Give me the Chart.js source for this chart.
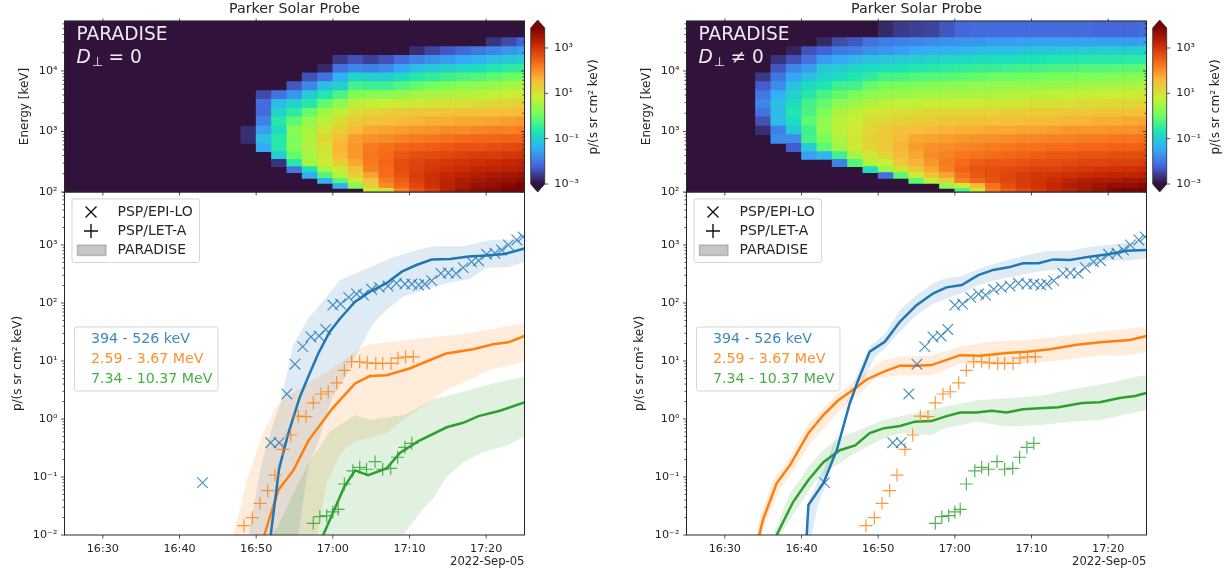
<!DOCTYPE html>
<html>
<head>
<meta charset="utf-8">
<title>Parker Solar Probe</title>
<script src="https://cdn.jsdelivr.net/npm/chart.js@4/dist/chart.umd.min.js"></script>
<style>
	body { margin: 0; background: #fff; }
	canvas { position: absolute; filter: blur(0.35px); }
</style>
</head>
<body>
<canvas id="lowerLeft" width="528" height="388" style="left:0;top:186px"></canvas>
<canvas id="lowerRight" width="528" height="388" style="left:622px;top:186px"></canvas>
<canvas id="upperLeft" width="528" height="200" style="left:0;top:0"></canvas>
<canvas id="upperRight" width="528" height="200" style="left:622px;top:0"></canvas>
<canvas id="barLeft" width="90" height="200" style="left:526px;top:0"></canvas>
<canvas id="barRight" width="90" height="200" style="left:1148px;top:0"></canvas>
<script>
const _ = null;

// minutes after 16:00 on 2022-Sep-05
const timeTicks = [30, 40, 50, 60, 70, 80];
const timeLabels = ["16:30", "16:40", "16:50", "17:00", "17:10", "17:20"];
const energyEdges = [100, 115, 139, 168, 209, 262, 347, 464, 637, 887, 1233, 1738, 2415, 3404, 4732, 6668, 9272, 12880, 18150, 25230, 35560, 67000];
const energyDecades = [100, 1000, 10000];
const fluxDecades = [0.01, 0.1, 1, 10, 100, 1000];
const barTicks = [0.001, 0.1, 10, 1000];

// log10 flux per time column, top energy row first
const cellTimesLeft = [49, 51, 53, 55, 57, 59, 61, 63, 65, 67, 69, 71, 73, 75, 77, 79, 81, 83, 85];
const cellsLeft = [
	[_,_,_,_,_,_,_,_,_,_,_,-2.75,-2.75,_,_,_,_,_,_,_,_],
	[_,_,_,_,_,_,_,-2.5,-2.2,-2.2,-2.0,-1.7,-1.35,-1.6,_,_,_,_,_,_,_],
	[_,_,_,_,_,_,_,-2.15,-1.4,-1.1,-0.8,-1.0,-0.8,-0.8,-1.2,-2.7,_,_,_,_,_],
	[_,_,_,_,_,_,-2.4,-1.8,-1.1,-0.75,-0.35,0,-0.1,-0.1,-0.3,-0.8,-2.1,_,_,_,_],
	[_,_,_,_,_,-2.45,-1.95,-1.2,-0.8,-0.3,0.1,0.2,0.3,0.3,0.2,0.2,-0.9,-1.6,_,_,_],
	[_,_,_,_,-2.8,-2.15,-1.35,-0.85,-0.3,0.15,0.4,0.65,0.8,0.7,0.6,0.55,0.2,-0.45,-1.5,_,_],
	[_,_,_,-2.65,-2.15,-1.55,-1.15,-0.5,0,0.4,0.75,0.95,1.15,1.25,1.2,0.95,0.55,0.35,-0.4,-1.5,_],
	[_,_,_,-2.45,-1.95,-1.1,-0.55,-0.1,0.4,0.75,1.0,1.2,1.45,1.5,1.5,1.35,1.1,0.9,0.6,-0.1,_],
	[_,_,_,-2.6,-2.0,-1.15,-0.6,0,0.45,0.85,1.1,1.35,1.55,1.75,1.8,1.75,1.7,1.4,1.1,0.9,0.55],
	[_,_,_,-2.45,-1.9,-1.2,-0.6,0,0.5,0.9,1.15,1.4,1.6,1.85,1.9,1.95,1.9,1.9,1.75,1.6,0.7],
	[_,_,_,-2.2,-1.65,-1.0,-0.45,0.1,0.55,0.95,1.2,1.45,1.7,1.95,2.1,2.2,2.2,2.15,2.05,1.95,1.7],
	[_,_,-2.75,-2.0,-1.35,-0.8,-0.3,0.2,0.6,1.0,1.25,1.5,1.75,2.0,2.2,2.3,2.35,2.4,2.35,2.3,2.15],
	[_,_,-2.55,-1.85,-1.25,-0.7,-0.2,0.25,0.65,1.0,1.3,1.55,1.8,2.05,2.25,2.4,2.45,2.55,2.55,2.55,2.4],
	[_,_,-2.4,-1.75,-1.15,-0.6,-0.1,0.3,0.7,1.05,1.3,1.6,1.85,2.1,2.3,2.45,2.55,2.65,2.7,2.75,2.75],
	[_,_,-2.25,-1.6,-1.05,-0.5,0,0.35,0.7,1.05,1.35,1.6,1.9,2.15,2.35,2.5,2.6,2.75,2.85,2.9,3.0],
	[_,_,-2.1,-1.5,-1.0,-0.45,0.05,0.4,0.75,1.1,1.35,1.65,1.95,2.15,2.4,2.55,2.7,2.8,2.95,3.05,3.15],
	[_,-2.7,-1.95,-1.35,-0.85,-0.35,0.1,0.45,0.8,1.1,1.4,1.7,1.95,2.2,2.4,2.6,2.7,2.9,3.0,3.1,3.2],
	[_,-2.5,-1.8,-1.25,-0.75,-0.25,0.2,0.5,0.85,1.15,1.45,1.7,2.0,2.25,2.45,2.65,2.75,2.95,3.05,3.2,3.35],
	[_,-2.3,-1.7,-1.15,-0.7,-0.2,0.3,0.55,0.9,1.2,1.5,1.75,2.0,2.3,2.5,2.7,2.8,3.0,3.15,3.3,3.5]
];

const cellTimesRight = [35, 37, 39, 41, 43, 45, 47, 49, 51, 53, 55, 57, 59, 61, 63, 65, 67, 69, 71, 73, 75, 77, 79, 81, 83, 85];
const cellsRight = [
	[_,_,_,_,_,-2.65,-2.35,-2.1,-1.95,-2.15,-2.45,-2.75,_,_,_,_,_,_,_,_,_],
	[_,_,_,-2.7,-2.4,-2.1,-1.9,-1.55,-1.35,-1.4,-1.4,-2.0,-1.9,_,_,_,_,_,_,_,_],
	[_,_,-2.85,-2.45,-1.95,-1.65,-1.3,-1.15,-1.0,-0.85,-1.0,-1.25,-1.9,-2.35,_,_,_,_,_,_,_],
	[_,_,-2.45,-2.15,-1.75,-1.35,-1.0,-0.8,-0.55,-0.5,-0.35,-0.6,-0.55,-1.2,-1.7,_,_,_,_,_,_],
	[_,-2.8,-2.3,-1.75,-1.25,-1.1,-0.85,-0.5,-0.3,-0.1,0.05,0.05,-0.15,-0.35,-1.45,_,_,_,_,_,_],
	[_,-2.5,-2.05,-1.6,-1.2,-1.0,-0.6,-0.3,0,0.25,0.35,0.4,0.3,0.15,-0.6,-2.0,_,_,_,_,_],
	[_,-2.4,-2.0,-1.45,-1.1,-0.85,-0.55,-0.15,0.15,0.4,0.5,0.55,0.6,0.55,0.2,-0.45,_,_,_,_,_],
	[_,-2.15,-1.85,-1.35,-1.0,-0.7,-0.3,0,0.3,0.55,0.75,0.85,0.9,0.85,0.6,0.35,-0.95,_,_,_,_],
	[-2.8,-2.05,-1.8,-1.25,-0.95,-0.55,-0.2,0.1,0.4,0.65,0.85,1.0,1.0,1.0,0.85,0.5,0.1,-2.15,_,_,_],
	[-2.65,-2.0,-1.7,-1.2,-0.9,-0.5,-0.15,0.15,0.45,0.7,0.9,1.1,1.2,1.25,1.15,1.0,0.65,-0.4,_,_,_],
	[-2.6,-1.95,-1.6,-1.15,-0.85,-0.45,-0.1,0.2,0.45,0.75,0.95,1.15,1.35,1.45,1.35,1.25,1.0,0.5,-0.35,_,_],
	[-2.55,-1.9,-1.55,-1.1,-0.8,-0.4,-0.05,0.2,0.5,0.8,1.0,1.2,1.4,1.55,1.6,1.5,1.35,1.1,0.45,_,_],
	[-2.4,-1.85,-1.5,-1.05,-0.75,-0.4,0,0.25,0.5,0.8,1.05,1.25,1.45,1.6,1.7,1.75,1.7,1.4,0.95,0.05,_],
	[-2.25,-1.8,-1.45,-1.05,-0.7,-0.35,0,0.25,0.55,0.8,1.05,1.3,1.5,1.65,1.8,1.9,2.0,1.85,1.7,0.5,-0.5],
	[-2.2,-1.8,-1.4,-1.0,-0.65,-0.3,0.05,0.3,0.55,0.85,1.1,1.3,1.55,1.7,1.85,2.05,2.15,2.1,1.95,1.2,0.6],
	[-2.2,-1.75,-1.35,-0.95,-0.65,-0.25,0.05,0.3,0.6,0.85,1.1,1.35,1.55,1.75,1.9,2.1,2.2,2.2,2.15,1.85,1.75],
	[-2.2,-1.75,-1.35,-0.95,-0.6,-0.25,0.1,0.35,0.6,0.9,1.15,1.35,1.6,1.8,1.95,2.1,2.25,2.3,2.3,2.2,2.05],
	[-2.2,-1.7,-1.3,-0.9,-0.55,-0.2,0.1,0.35,0.65,0.9,1.15,1.4,1.65,1.85,2.0,2.15,2.3,2.4,2.4,2.4,2.25],
	[-2.2,-1.7,-1.25,-0.9,-0.55,-0.2,0.1,0.4,0.7,0.95,1.2,1.4,1.65,1.85,2.05,2.2,2.35,2.45,2.5,2.5,2.45],
	[-2.2,-1.7,-1.25,-0.85,-0.5,-0.15,0.15,0.4,0.7,0.95,1.2,1.45,1.7,1.9,2.1,2.2,2.35,2.5,2.6,2.65,2.65],
	[-2.2,-1.7,-1.2,-0.85,-0.5,-0.15,0.15,0.45,0.7,1.0,1.25,1.5,1.7,1.9,2.1,2.25,2.4,2.55,2.7,2.8,2.75],
	[-2.2,-1.7,-1.2,-0.8,-0.45,-0.1,0.2,0.45,0.75,1.0,1.25,1.5,1.75,1.95,2.15,2.3,2.45,2.6,2.8,2.9,2.9],
	[-2.25,-1.7,-1.15,-0.8,-0.45,-0.1,0.2,0.5,0.75,1.05,1.3,1.5,1.75,1.95,2.15,2.3,2.5,2.65,2.85,3.0,3.05],
	[-2.25,-1.7,-1.15,-0.8,-0.4,-0.05,0.2,0.5,0.8,1.05,1.3,1.55,1.8,2.0,2.2,2.35,2.5,2.7,2.9,3.1,3.25],
	[-2.25,-1.75,-1.15,-0.75,-0.4,-0.05,0.25,0.55,0.8,1.1,1.35,1.55,1.8,2.0,2.2,2.35,2.55,2.7,2.95,3.1,3.35],
	[-2.2,-1.7,-1.1,-0.75,-0.35,0,0.3,0.6,0.85,1.15,1.4,1.6,1.85,2.05,2.25,2.4,2.6,2.75,3.0,3.2,3.5]
];

// PSP measurements, same in both panels
const epiTimes = [43, 51.9, 53, 54, 55.06, 56.07, 57.15, 58.2, 59.07, 60, 61, 62.07, 63.1, 64, 65.07, 66.06, 67.2, 68.3, 69.4, 70.3, 71.2, 72, 72.9, 74.1, 75.07, 76.07, 77, 78.1, 79, 80.06, 81.15, 82, 82.9, 84, 84.8];
const epiFlux = [0.08, 0.39, 0.39, 2.7, 8.8, 17.7, 26, 27, 35, 92, 96, 125, 143, 137, 172, 186, 196, 219, 212, 212, 204, 212, 243, 324, 331, 324, 407, 513, 537, 692, 718, 820, 1000, 1220, 1380];
const letMidTimes = [48.4, 49.5, 50.5, 51.5, 52.45, 53.5, 54.5, 55.5, 56.5, 57.45, 58.45, 59.4, 60.5, 61.5, 62.45, 63.5, 64.5, 65.6, 66.5, 67.6, 68.5, 69.5, 70.5];
const letMidFlux = [0.0145, 0.0199, 0.0352, 0.058, 0.108, 0.3, 0.53, 1.12, 1.1, 1.9, 2.7, 2.95, 4.2, 6.9, 9.7, 9.7, 9.3, 9.1, 9.1, 9.1, 11.2, 11.8, 11.8];
const letHighTimes = [57.45, 58.3, 59.2, 60, 60.7, 61.5, 62.6, 63.5, 64.4, 65.5, 66.5, 67.55, 68.45, 69.4, 70.3];
const letHighFlux = [0.0159, 0.0207, 0.0215, 0.025, 0.0277, 0.0757, 0.128, 0.147, 0.136, 0.184, 0.136, 0.141, 0.219, 0.325, 0.38];

// PARADISE, perpendicular diffusion off
const blueLineTimesL = [51.9, 53, 54.2, 55.7, 56.7, 58.1, 59.6, 60.95, 62.9, 64.85, 67, 69, 70.9, 72.9, 75.3, 77.7, 80, 82.4, 85];
const blueLineFluxL = [0.01, 0.141, 0.57, 2.4, 5, 13.5, 32, 54, 105, 157, 219, 347, 452, 562, 575, 631, 660, 700, 870];
const blueHighTimesL = [49, 50.7, 52, 53.3, 53.8, 54.85, 56.8, 59.2, 60.95, 64, 67.5, 70.9, 73.1, 77, 80.5, 85];
const blueHighFluxL = [0.01, 0.17, 0.65, 2.1, 4.7, 19, 54, 129, 250, 372, 590, 815, 955, 955, 1220, 1260];
const blueLowTimesL = [49, 55.5, 56.8, 58.1, 59.9, 61.5, 62.9, 65.3, 67, 69.2, 72.7, 74.8, 77.8, 80, 82.9, 85];
const blueLowFluxL = [0.001, 0.01, 0.15, 0.4, 2.3, 5, 11.8, 45, 76, 129, 180, 220, 260, 400, 412, 513];

const orangeLineTimesL = [51.06, 52.9, 54.85, 56.8, 59.9, 62.9, 64.85, 67, 70.1, 72.7, 74.8, 78.3, 80.9, 82.9, 85];
const orangeLineFluxL = [0.01, 0.06, 0.13, 0.42, 1.5, 4.1, 5.5, 5.7, 7.5, 10.4, 13.5, 16, 19.5, 21, 27];
const orangeHighTimesL = [47, 48.8, 50.9, 52.45, 53.3, 57.45, 60, 63.5, 65, 72, 77, 85];
const orangeHighFluxL = [0.01, 0.089, 0.57, 1.5, 2.1, 4.7, 7.6, 16.5, 19.6, 25, 29, 45];
const orangeLowTimesL = [47, 58, 59.2, 61, 62.9, 67, 69.2, 72.7, 74.8, 77.8, 80.5, 85];
const orangeLowFluxL = [0.001, 0.01, 0.078, 0.26, 0.41, 0.57, 0.96, 2, 3.2, 4.7, 7, 9.8];

const greenLineTimesL = [58.75, 60, 61.5, 62.9, 64.6, 67, 68.75, 71.1, 74.85, 77, 79, 81.8, 85];
const greenLineFluxL = [0.01, 0.024, 0.068, 0.13, 0.108, 0.14, 0.26, 0.41, 0.72, 0.86, 1.12, 1.39, 1.94];
const greenHighTimesL = [52, 52.9, 54.85, 56.8, 59.6, 62.9, 64.85, 69.2, 70.9, 73.1, 77, 80.9, 85];
const greenHighFluxL = [0.01, 0.0149, 0.052, 0.172, 0.6, 1.17, 0.96, 1.17, 1.5, 2.2, 2.96, 4.1, 5.4];
const greenLowTimesL = [52, 69.2, 71.6, 73.1, 74.85, 77, 79.6, 82.7, 85];
const greenLowFluxL = [0.001, 0.01, 0.027, 0.043, 0.1, 0.18, 0.27, 0.35, 0.5];

// PARADISE, perpendicular diffusion on
const blueLineTimesR = [40.68, 40.9, 42.85, 44.6, 46.3, 47.4, 48.9, 50.9, 52.85, 55, 57.2, 58.9, 60.9, 63.06, 65, 67, 68.9, 70.9, 72.85, 75, 77.6, 80.2, 82.4, 85];
const blueLineFluxR = [0.01, 0.033, 0.078, 0.29, 1.87, 4.7, 14.5, 21.6, 48, 92, 147, 186, 204, 303, 372, 412, 483, 483, 565, 550, 630, 700, 795, 820];
const blueHighTimesR = [40.6, 40.9, 42.85, 44.6, 46.3, 48.9, 50.9, 52.85, 55, 57.2, 58.9, 60.9, 63.06, 65, 68.9, 72, 75, 77.6, 82.4, 85];
const blueHighFluxR = [0.01, 0.038, 0.13, 0.5, 3, 17.7, 30, 76, 138, 219, 267, 292, 382, 470, 645, 790, 795, 935, 1095, 1140];
const blueLowTimesR = [40.6, 41.3, 42.2, 43.3, 45, 46.76, 48.06, 49.6, 51.1, 52.85, 55, 57.2, 58.9, 60.9, 63.06, 65, 67, 70.7, 72.85, 75, 77.6, 80.2, 82.4, 85];
const blueLowFluxR = [0.001, 0.01, 0.035, 0.078, 0.74, 4.1, 4.7, 11.8, 17.7, 32, 62, 98, 120, 147, 204, 243, 276, 347, 372, 398, 437, 550, 537, 589];

const orangeLineTimesR = [34.5, 34.95, 36.76, 38.5, 40.9, 42.85, 44.8, 47, 48.5, 50.67, 52.85, 55, 56.96, 60.7, 63.3, 66.76, 69.4, 72.4, 75.9, 78.9, 82.85, 85];
const orangeLineFluxR = [0.01, 0.018, 0.078, 0.16, 0.57, 1.17, 2.1, 3.4, 4.8, 6.5, 8.3, 8.3, 8.5, 12.6, 12.3, 13.8, 14.5, 16, 19, 21, 23, 27];
const orangeHighTimesR = [34.15, 34.6, 36.3, 38.5, 40.9, 42.85, 44.8, 47, 48.5, 50.67, 52.85, 56.96, 60.7, 65, 69.4, 74.1, 78.9, 85];
const orangeHighFluxR = [0.01, 0.021, 0.089, 0.22, 0.84, 1.5, 2.8, 4.4, 6.5, 10.4, 11.8, 12.3, 17.7, 21.6, 23, 27, 32, 39];
const orangeLowTimesR = [34.15, 34.8, 35.67, 37.2, 38.9, 41.3, 43.3, 45.2, 47.4, 49.6, 52.85, 56.96, 60.7, 65, 69.4, 74.1, 78.9, 82.4, 85];
const orangeLowFluxR = [0.001, 0.01, 0.021, 0.063, 0.13, 0.41, 0.79, 1.5, 2.6, 5, 5.7, 5.7, 9.1, 8.5, 9.1, 10.4, 12.6, 12.3, 14.5];

const greenLineTimesR = [36.76, 38.9, 40.9, 42.85, 45, 47, 48.9, 50.67, 52.85, 54.8, 56.96, 58.7, 60.7, 62.85, 64.8, 66.76, 68.9, 71.1, 73.5, 76.6, 78.9, 81.5, 83.5, 85];
const greenLineFluxR = [0.01, 0.037, 0.089, 0.18, 0.29, 0.35, 0.57, 0.69, 0.76, 0.9, 0.92, 1.1, 1.29, 1.29, 1.39, 1.29, 1.47, 1.53, 1.6, 1.88, 1.95, 2.3, 2.5, 2.8];
const greenHighTimesR = [36.3, 38.5, 40.9, 42.85, 45, 47, 50.67, 54.8, 58.7, 62.85, 66.76, 71.1, 75, 78.9, 85];
const greenHighFluxR = [0.01, 0.052, 0.15, 0.29, 0.49, 0.6, 0.96, 1.26, 1.63, 2.1, 2.27, 2.5, 3.2, 3.9, 5.8];
const greenLowTimesR = [36.3, 37.2, 39.6, 41.76, 43.9, 47, 50.67, 52.85, 56.96, 58.7, 62.85, 66.76, 71.1, 75, 78.9, 85];
const greenLowFluxR = [0.001, 0.01, 0.031, 0.083, 0.14, 0.26, 0.46, 0.57, 0.53, 0.69, 0.9, 0.74, 0.79, 0.9, 0.96, 1.43];

const channelNames = ["394 - 526 keV", "2.59 - 3.67 MeV", "7.34 - 10.37 MeV"];

const blue = "31,119,180";
const orange = "255,127,14";
const green = "44,160,44";
const inkColor = "#262626";
const fontName = "'DejaVu Sans'";
const turboStops = ["#30123b", "#4662d7", "#36aaf9", "#1ae4b6", "#72fe5e", "#c8ef34", "#faba39", "#f66b19", "#cb2a04", "#7a0403"];

Chart.defaults.font.family = fontName;
Chart.defaults.color = inkColor;
Chart.defaults.animation = false;
Chart.defaults.events = [];

const zip = (xs, ys) => xs.map((x, i) => ({ x: x, y: ys[i] }));

function noMargins(s) {
	s.paddingTop = s.paddingBottom = s.paddingLeft = s.paddingRight = 0;
}

function turbo(t) {
	t = Math.min(1, Math.max(0, t)) * (turboStops.length - 1);
	const i = Math.min(turboStops.length - 2, Math.floor(t));
	const a = parseInt(turboStops[i].slice(1), 16);
	const b = parseInt(turboStops[i + 1].slice(1), 16);
	const mix = (shift) => Math.round(((a >> shift) & 255) * (1 - t + i) + ((b >> shift) & 255) * (t - i));
	return `rgb(${mix(16)},${mix(8)},${mix(0)})`;
}

function minorTicks(lo, hi) {
	var vals = [];
	for (var d = lo; d < hi; d *= 10) {
		for (var k = 1; k < 10; k++) {
			const v = +(d * k).toPrecision(3);
			if (v <= hi) vals.push(v);
		}
	}
	return vals;
}

// spine, tick marks, and the marks matplotlib puts on every side
const framePlugin = {
	id: "frame",
	afterDraw(chart, args, opts) {
		const ctx = chart.ctx;
		const a = chart.chartArea;
		const y = chart.scales.y;
		ctx.save();
		ctx.strokeStyle = inkColor;
		ctx.lineWidth = 1;
		ctx.strokeRect(a.left, a.top, a.right - a.left, a.bottom - a.top);
		ctx.lineWidth = 0.8;
		ctx.beginPath();
		timeTicks.forEach((v) => {
			const px = chart.scales.x.getPixelForValue(v);
			ctx.moveTo(px, a.bottom);
			ctx.lineTo(px, a.bottom + 3.5);
			if (opts.inner) {
				ctx.moveTo(px, a.top);
				ctx.lineTo(px, a.top - 2.5);
			}
		});
		y.ticks.forEach((t) => {
			const major = Math.abs(Math.log10(t.value) % 1) < 1e-6;
			const py = y.getPixelForValue(t.value);
			const len = major ? 3.5 : 2;
			ctx.moveTo(a.left, py);
			ctx.lineTo(a.left - len, py);
			if (opts.inner) {
				ctx.moveTo(a.right, py);
				ctx.lineTo(a.right - len, py);
			}
		});
		ctx.stroke();
		ctx.restore();
	},
};

const underPlugin = {
	id: "under",
	beforeDatasetsDraw(chart) {
		const a = chart.chartArea;
		chart.ctx.fillStyle = turboStops[0];
		chart.ctx.fillRect(a.left, a.top, a.right - a.left, a.bottom - a.top);
	},
};

const captionPlugin = {
	id: "caption",
	afterDraw(chart, args, opts) {
		const ctx = chart.ctx;
		const x = chart.chartArea.left + 12;
		ctx.save();
		ctx.fillStyle = "rgba(255,255,255,0.92)";
		ctx.textBaseline = "alphabetic";
		ctx.font = `18.6px ${fontName}`;
		ctx.fillText("PARADISE", x, 39.5);
		ctx.font = `italic 18.6px ${fontName}`;
		ctx.fillText("D", x, 63);
		ctx.font = `13px ${fontName}`;
		ctx.fillText("⊥", x + 15.5, 66);
		ctx.font = `18.6px ${fontName}`;
		ctx.fillText(opts.text, x + 32, 63);
		ctx.restore();
	},
};

function keyBox(ctx, x, y, w, h) {
	ctx.beginPath();
	ctx.roundRect(x, y, w, h, 2.5);
	ctx.fillStyle = "rgba(255,255,255,0.8)";
	ctx.fill();
	ctx.strokeStyle = "rgba(204,204,204,0.8)";
	ctx.lineWidth = 1;
	ctx.stroke();
}

const keysPlugin = {
	id: "keys",
	afterDraw(chart) {
		const ctx = chart.ctx;
		const l = chart.chartArea.left;
		const t = chart.chartArea.top;
		ctx.save();
		ctx.textBaseline = "middle";
		ctx.font = `14px ${fontName}`;

		keyBox(ctx, l + 7.5, t + 7, 127.5, 63.5);
		ctx.strokeStyle = "#111";
		ctx.lineWidth = 1.4;
		ctx.beginPath();
		ctx.moveTo(l + 21, t + 14.5);
		ctx.lineTo(l + 32, t + 25.5);
		ctx.moveTo(l + 32, t + 14.5);
		ctx.lineTo(l + 21, t + 25.5);
		ctx.moveTo(l + 19.5, t + 39);
		ctx.lineTo(l + 33.5, t + 39);
		ctx.moveTo(l + 26.5, t + 32);
		ctx.lineTo(l + 26.5, t + 46);
		ctx.stroke();
		ctx.fillStyle = "rgba(128,128,128,0.45)";
		ctx.strokeStyle = "rgba(128,128,128,0.45)";
		ctx.fillRect(l + 13, t + 53, 28.5, 10.5);
		ctx.strokeRect(l + 13, t + 53, 28.5, 10.5);
		ctx.fillStyle = inkColor;
		ctx.fillText("PSP/EPI-LO", l + 53, t + 20);
		ctx.fillText("PSP/LET-A", l + 53, t + 39);
		ctx.fillText("PARADISE", l + 53, t + 58.5);

		keyBox(ctx, l + 10, t + 135, 143.5, 64);
		ctx.font = `14.2px ${fontName}`;
		[blue, orange, green].forEach((c, i) => {
			ctx.fillStyle = `rgba(${c},0.88)`;
			ctx.fillText(channelNames[i], l + 26.5, t + 147 + i * 20);
		});
		ctx.restore();
	},
};

function timeAxis() {
	return {
		type: "linear",
		min: 25,
		max: 85,
		offset: false,
		grid: { display: false, drawTicks: false },
		border: { display: false },
		afterBuildTicks: (s) => { s.ticks = timeTicks.map((value) => ({ value })); },
		afterFit: noMargins,
		ticks: {
			autoSkip: false,
			maxRotation: 0,
			padding: 7,
			font: { size: 11.2 },
			callback: (v, i) => timeLabels[i],
		},
	};
}

function logAxis(lo, hi, tickLo, tickHi, decades, label, labelPad) {
	return {
		type: "logarithmic",
		min: lo,
		max: hi,
		grid: { display: false, drawTicks: false },
		border: { display: false },
		afterBuildTicks: (s) => { s.ticks = minorTicks(tickLo, tickHi).map((value) => ({ value })); },
		afterFit: (s) => { s.width = 64.5; noMargins(s); },
		title: { display: true, text: label, font: { size: 12 }, padding: { top: labelPad, bottom: 0 } },
		ticks: {
			autoSkip: false,
			maxRotation: 0,
			padding: 7,
			font: { size: 11.2 },
			callback: (v) => (decades.indexOf(v) >= 0 ? superTen(v) : ""),
		},
	};
}

function superTen(v) {
	const digits = { "-": "⁻", 0: "⁰", 1: "¹", 2: "²", 3: "³", 4: "⁴" };
	const exp = String(Math.round(Math.log10(v)));
	return "10" + exp.split("").map((c) => digits[c]).join("");
}

function drawHeat(id, times, cells, text) {
	const points = [];
	times.forEach((t, j) => {
		cells[j].forEach((v, i) => {
			if (v === null) return;
			const row = energyEdges.length - 2 - i;
			points.push({ x: t, y: [energyEdges[row], energyEdges[row + 1]], v: v });
		});
	});
	return new Chart(document.getElementById(id), {
		type: "bar",
		data: {
			datasets: [{
				data: points,
				grouped: false,
				barPercentage: 1,
				categoryPercentage: 1,
				borderWidth: 0,
				backgroundColor: (c) => (c.raw ? turbo((c.raw.v + 3) / 6.3) : turboStops[0]),
			}],
		},
		options: {
			responsive: false,
			devicePixelRatio: 1,
			layout: { autoPadding: false, padding: { right: 3.5, bottom: 8 } },
			scales: {
				x: Object.assign(timeAxis(), { display: false }),
				y: logAxis(100, 67000, 100, 60000, energyDecades, "Energy [keV]", 17.4),
			},
			plugins: {
				legend: { display: false },
				tooltip: { enabled: false },
				title: {
					display: true,
					text: "Parker Solar Probe",
					fullSize: false,
					color: inkColor,
					font: { size: 14.3, weight: "normal" },
					padding: { top: 1, bottom: 2.8 },
				},
				frame: { inner: true },
				caption: { text: text },
			},
		},
		plugins: [underPlugin, framePlugin, captionPlugin],
	});
}

function band(color, highT, highF, lowT, lowF) {
	return [
		{ data: zip(highT, highF), fill: "+1", backgroundColor: `rgba(${color},0.15)`, borderWidth: 0, pointRadius: 0, order: 5 },
		{ data: zip(lowT, lowF), fill: false, borderWidth: 0, pointRadius: 0, order: 5 },
	];
}

function curve(color, times, flux) {
	return { data: zip(times, flux), borderColor: `rgb(${color})`, borderWidth: 2.5, pointRadius: 0, tension: 0, order: 2 };
}

function markers(color, style, size, times, flux) {
	return {
		data: zip(times, flux),
		showLine: false,
		pointStyle: style,
		pointRadius: size,
		pointBorderWidth: 1.2,
		pointBorderColor: `rgba(${color},0.8)`,
		pointBackgroundColor: "transparent",
		order: 1,
	};
}

function drawProfiles(id, datasets) {
	return new Chart(document.getElementById(id), {
		type: "line",
		data: { datasets: datasets },
		options: {
			responsive: false,
			devicePixelRatio: 1,
			layout: { autoPadding: false, padding: { top: 6, right: 3.5 } },
			scales: {
				x: Object.assign(timeAxis(), {
					afterFit: (s) => { s.height = 39; noMargins(s); },
					title: { display: true, text: "2022-Sep-05", align: "end", font: { size: 11.6 }, padding: { top: 0, bottom: 5 } },
				}),
				y: logAxis(0.01, 8200, 0.01, 8000, fluxDecades, "p/(s sr cm² keV)", 10.4),
			},
			plugins: { legend: { display: false }, tooltip: { enabled: false }, frame: { inner: false } },
		},
		plugins: [framePlugin, keysPlugin],
	});
}

const capsPlugin = {
	id: "caps",
	afterDraw(chart) {
		const ctx = chart.ctx;
		const a = chart.chartArea;
		const mid = (a.left + a.right) / 2;
		ctx.save();
		ctx.fillStyle = turboStops[turboStops.length - 1];
		ctx.beginPath();
		ctx.moveTo(a.left, a.top);
		ctx.lineTo(mid, a.top - 8);
		ctx.lineTo(a.right, a.top);
		ctx.closePath();
		ctx.fill();
		ctx.fillStyle = turboStops[0];
		ctx.beginPath();
		ctx.moveTo(a.left, a.bottom);
		ctx.lineTo(mid, a.bottom + 8);
		ctx.lineTo(a.right, a.bottom);
		ctx.closePath();
		ctx.fill();
		ctx.strokeStyle = inkColor;
		ctx.lineWidth = 0.8;
		ctx.beginPath();
		ctx.moveTo(a.left, a.top);
		ctx.lineTo(mid, a.top - 8);
		ctx.lineTo(a.right, a.top);
		ctx.lineTo(a.right, a.bottom);
		ctx.lineTo(mid, a.bottom + 8);
		ctx.lineTo(a.left, a.bottom);
		ctx.closePath();
		barTicks.forEach((v) => {
			const py = chart.scales.y.getPixelForValue(v);
			ctx.moveTo(a.right, py);
			ctx.lineTo(a.right + 3.5, py);
		});
		ctx.stroke();
		ctx.fillStyle = inkColor;
		ctx.font = `12px ${fontName}`;
		ctx.textAlign = "center";
		ctx.textBaseline = "middle";
		ctx.translate(68, 107);
		ctx.rotate(-Math.PI / 2);
		ctx.fillText("p/(s sr cm² keV)", 0, 0);
		ctx.restore();
	},
};

function drawBar(id) {
	return new Chart(document.getElementById(id), {
		type: "bar",
		data: {
			labels: [""],
			datasets: [{
				data: [[0.001, 7586]],
				barPercentage: 1,
				categoryPercentage: 1,
				borderWidth: 0,
				backgroundColor: (c) => {
					const a = c.chart.chartArea;
					if (!a) return turboStops[0];
					const g = c.chart.ctx.createLinearGradient(0, a.bottom, 0, a.top);
					turboStops.forEach((s, i) => g.addColorStop(i / (turboStops.length - 1), s));
					return g;
				},
			}],
		},
		options: {
			responsive: false,
			devicePixelRatio: 1,
			layout: { autoPadding: false, padding: { left: 4.7, top: 28, bottom: 16 } },
			scales: {
				x: { display: false },
				y: {
					type: "logarithmic",
					position: "right",
					min: 0.001,
					max: 7586,
					grid: { display: false, drawTicks: false },
					border: { display: false },
					afterBuildTicks: (s) => { s.ticks = barTicks.map((value) => ({ value })); },
					afterFit: (s) => { s.width = 71.3; noMargins(s); },
					ticks: { autoSkip: false, padding: 9.6, font: { size: 11.2 }, callback: (v) => superTen(v) },
				},
			},
			plugins: { legend: { display: false }, tooltip: { enabled: false } },
		},
		plugins: [capsPlugin],
	});
}

drawProfiles("lowerLeft", [
	markers(blue, "crossRot", 7.5, epiTimes, epiFlux),
	markers(orange, "cross", 6.5, letMidTimes, letMidFlux),
	markers(green, "cross", 6.5, letHighTimes, letHighFlux),
	curve(blue, blueLineTimesL, blueLineFluxL),
	curve(orange, orangeLineTimesL, orangeLineFluxL),
	curve(green, greenLineTimesL, greenLineFluxL),
	...band(green, greenHighTimesL, greenHighFluxL, greenLowTimesL, greenLowFluxL),
	...band(orange, orangeHighTimesL, orangeHighFluxL, orangeLowTimesL, orangeLowFluxL),
	...band(blue, blueHighTimesL, blueHighFluxL, blueLowTimesL, blueLowFluxL),
]);
drawProfiles("lowerRight", [
	markers(blue, "crossRot", 7.5, epiTimes, epiFlux),
	markers(orange, "cross", 6.5, letMidTimes, letMidFlux),
	markers(green, "cross", 6.5, letHighTimes, letHighFlux),
	curve(blue, blueLineTimesR, blueLineFluxR),
	curve(orange, orangeLineTimesR, orangeLineFluxR),
	curve(green, greenLineTimesR, greenLineFluxR),
	...band(green, greenHighTimesR, greenHighFluxR, greenLowTimesR, greenLowFluxR),
	...band(orange, orangeHighTimesR, orangeHighFluxR, orangeLowTimesR, orangeLowFluxR),
	...band(blue, blueHighTimesR, blueHighFluxR, blueLowTimesR, blueLowFluxR),
]);
drawHeat("upperLeft", cellTimesLeft, cellsLeft, "= 0");
drawHeat("upperRight", cellTimesRight, cellsRight, "≠ 0");
drawBar("barLeft");
drawBar("barRight");
</script>
</body>
</html>
